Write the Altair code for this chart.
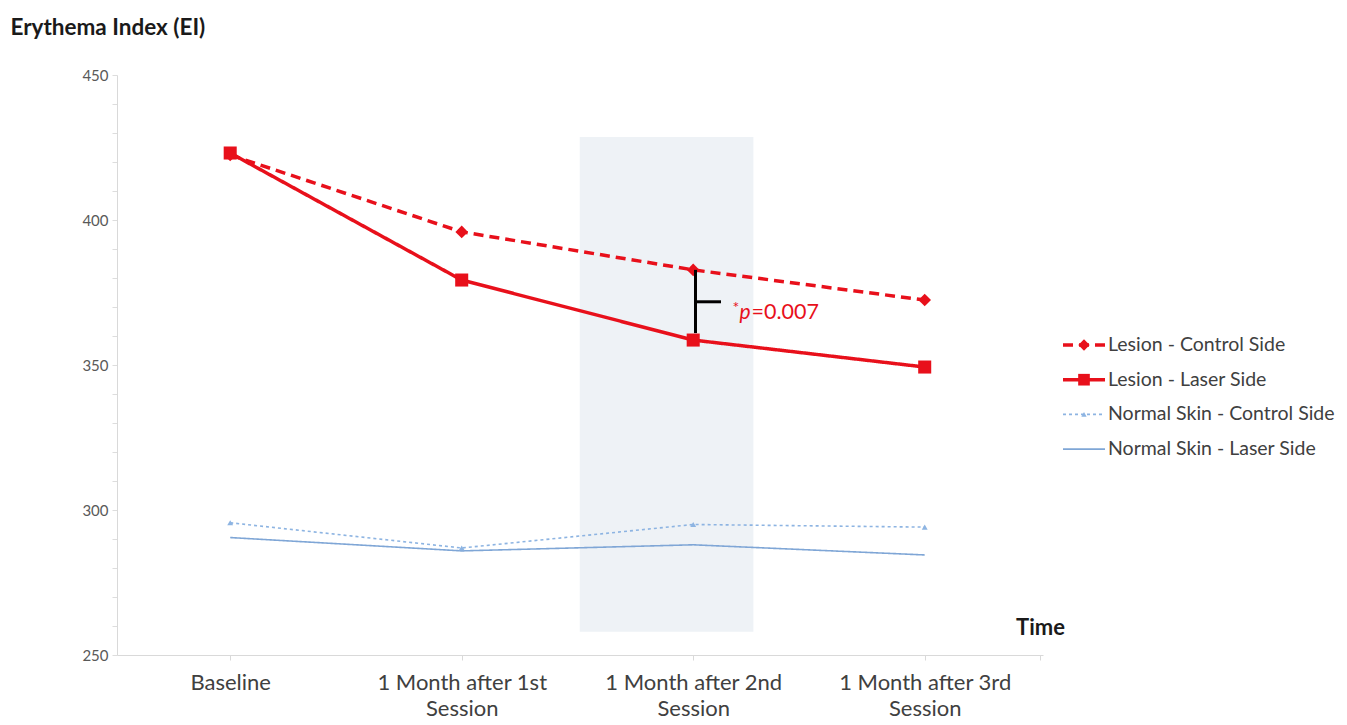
import altair as alt
import pandas as pd

# Time points (x positions 0..3) and their two-line axis labels
timepoints = [0, 1, 2, 3]
time_labels = [
    ["Baseline"],
    ["1 Month after 1st", "Session"],
    ["1 Month after 2nd", "Session"],
    ["1 Month after 3rd", "Session"],
]

# Mean erythema index per series
series_names = [
    "Lesion - Control Side",
    "Lesion - Laser Side",
    "Normal Skin - Control Side",
    "Normal Skin - Laser Side",
]
lesion_control = [422.4, 395.9, 382.8, 372.4]
lesion_laser = [423.1, 379.3, 358.6, 349.3]
normal_control = [295.6, 286.9, 295.0, 294.1]
normal_laser = [290.5, 285.9, 288.0, 284.5]
series_values = [lesion_control, lesion_laser, normal_control, normal_laser]

# y-axis ticks every 10, labelled every 50
y_ticks = list(range(250, 451, 10))
y_labelled = [250, 300, 350, 400, 450]

# Highlighted interval (x range, y range)
shade_x = [1.51, 2.26]
shade_y = [258.0, 428.6]

# Significance bracket between the lesion series after the 2nd session
bracket_x = [2.01, 2.12]
bracket_y = [382.8, 371.8, 361.0]
p_text = ["*", "p", "=0.007"]
p_anchor = [2.17, 368.0]

RED = "#E8101B"
BLUE_LIGHT = "#8DB4E2"
BLUE = "#7FA6D6"
FONT = "Lato"
X_DOMAIN = [-0.489, 3.511]

styles = {
    "Lesion - Control Side": dict(color=RED, dash=[10, 6], width=3.5, shape="diamond", size=160),
    "Lesion - Laser Side": dict(color=RED, dash=[1, 0], width=3.5, shape="square", size=170),
    "Normal Skin - Control Side": dict(color=BLUE_LIGHT, dash=[3, 3], width=1.6, shape="triangle-up", size=35),
    "Normal Skin - Laser Side": dict(color=BLUE, dash=[1, 0], width=1.6, shape=None, size=0),
}

rows = []
for name, vals in zip(series_names, series_values):
    for t, v in zip(timepoints, vals):
        rows.append({"series": name, "t": t, "value": v})
df = pd.DataFrame(rows)

label_expr = (
    "datum.value == floor(datum.value) && datum.value >= 0 && datum.value <= 3 ? "
    + str(time_labels).replace("'", '"')
    + "[datum.value] : ''"
)

x_axis = alt.Axis(
    values=[0, 1, 2, 3, 3.5],
    labelExpr=label_expr,
    title="Time",
    titleX=923,
    titleY=-28,
    titleAlign="center",
    titleBaseline="middle",
    titleFontSize=22,
    titleFontWeight="bold",
    titleColor="#1a1a1a",
    titleFont=FONT,
    labelFont=FONT,
    labelFontSize=22,
    labelColor="#404040",
    labelLineHeight=26,
    labelPadding=12,
    tickSize=5,
    tickColor="#D9D9D9",
    domainColor="#D9D9D9",
    grid=False,
    labelFlush=False,
    labelOverlap=False,
)
y_axis = alt.Axis(
    values=y_ticks,
    labelExpr="indexof(" + str(y_labelled) + ", datum.value) >= 0 ? datum.label : ''",
    title="Erythema Index (EI)",
    titleAngle=0,
    titleX=-107,
    titleY=-48,
    titleAlign="left",
    titleBaseline="middle",
    titleFontSize=22.5,
    titleFontWeight="bold",
    titleColor="#1a1a1a",
    titleFont=FONT,
    labelFont=FONT,
    labelFontSize=15,
    labelColor="#595959",
    labelPadding=4,
    tickSize=5,
    tickColor="#DDDDDD",
    domainColor="#D9D9D9",
    grid=False,
    labelOverlap=False,
)
x_scale = alt.Scale(domain=X_DOMAIN, nice=False, zero=False)
y_scale = alt.Scale(domain=[250, 450], nice=False, zero=False)


def X(field="t"):
    return alt.X(f"{field}:Q", scale=x_scale, axis=x_axis)


def Y(field="value"):
    return alt.Y(f"{field}:Q", scale=y_scale, axis=y_axis)


shade = alt.Chart(
    pd.DataFrame({"t": [shade_x[0]], "t2": [shade_x[1]], "value": [shade_y[0]], "value2": [shade_y[1]]})
).mark_rect(color="#EEF2F6").encode(x=X(), x2="t2:Q", y=Y(), y2="value2:Q")

layers = [shade]
# normal-skin series first so the lesion series sit on top
for name in reversed(series_names):
    st = styles[name]
    base = alt.Chart(df[df.series == name])
    layers.append(
        base.mark_line(color=st["color"], strokeDash=st["dash"], strokeWidth=st["width"]).encode(x=X(), y=Y())
    )
    if st["shape"]:
        layers.append(
            base.mark_point(shape=st["shape"], filled=True, color=st["color"], size=st["size"], opacity=1).encode(
                x=X(), y=Y()
            )
        )

# significance bracket
bracket_v = alt.Chart(
    pd.DataFrame({"t": [bracket_x[0]], "value": [bracket_y[0]], "value2": [bracket_y[2]]})
).mark_rule(color="black", strokeWidth=3).encode(x=X(), y=Y(), y2="value2:Q")
bracket_h = alt.Chart(
    pd.DataFrame({"t": [bracket_x[0]], "t2": [bracket_x[1]], "value": [bracket_y[1]]})
).mark_rule(color="black", strokeWidth=3).encode(x=X(), x2="t2:Q", y=Y())
layers += [bracket_v, bracket_h]

p_df = pd.DataFrame({"t": [p_anchor[0]], "value": [p_anchor[1]]})
layers.append(
    alt.Chart(p_df).mark_text(color=RED, font=FONT, fontSize=16, align="left", baseline="middle", dy=-5).encode(
        x=X(), y=Y(), text=alt.value(p_text[0])
    )
)
layers.append(
    alt.Chart(p_df).mark_text(
        color=RED, font=FONT, fontSize=21, fontStyle="italic", align="left", baseline="middle", dx=7
    ).encode(x=X(), y=Y(), text=alt.value(p_text[1]))
)
layers.append(
    alt.Chart(p_df).mark_text(color=RED, font=FONT, fontSize=21.5, align="left", baseline="middle", dx=19).encode(
        x=X(), y=Y(), text=alt.value(p_text[2])
    )
)

# legend to the right of the plot area
LEG_X0, LEG_X1, LEG_TXT = 946, 988, 991
LEG_Y0, LEG_DY = 270, 34.7
for i, name in enumerate(series_names):
    st = styles[name]
    ly = LEG_Y0 + i * LEG_DY
    leg = alt.Chart(pd.DataFrame({"label": [name]}))
    layers.append(
        leg.mark_rule(color=st["color"], strokeDash=st["dash"], strokeWidth=st["width"]).encode(
            x=alt.value(LEG_X0), x2=alt.value(LEG_X1), y=alt.value(ly)
        )
    )
    if st["shape"]:
        layers.append(
            leg.mark_point(shape=st["shape"], filled=True, color=st["color"], size=st["size"] * 0.8, opacity=1).encode(
                x=alt.value((LEG_X0 + LEG_X1) / 2), y=alt.value(ly)
            )
        )
    layers.append(
        leg.mark_text(align="left", baseline="middle", font=FONT, fontSize=19.5, color="#404040").encode(
            x=alt.value(LEG_TXT), y=alt.value(ly), text="label:N"
        )
    )

chart = (
    alt.layer(*layers)
    .properties(
        width=926,
        height=580,
        background="white",
        padding={"left": 10, "top": 16, "right": 5, "bottom": 5},
    )
    .configure_view(strokeWidth=0, stroke="transparent")
    .configure_axis(grid=False)
)

chart.save("out.html", embed_options={"renderer": "svg", "actions": False})
